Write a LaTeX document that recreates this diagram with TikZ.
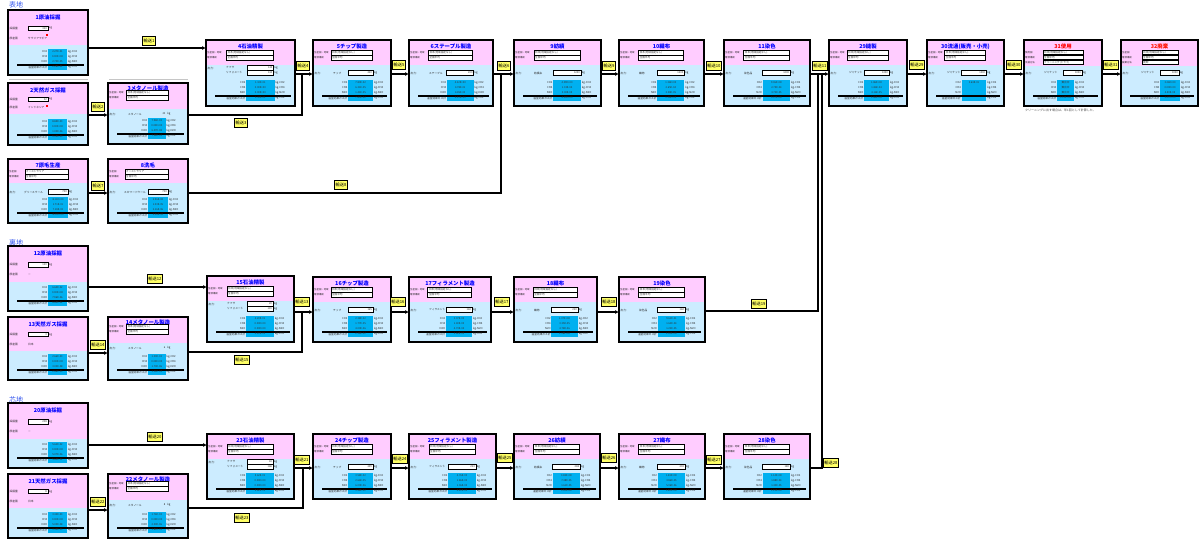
\documentclass[tikz,border=0pt]{standalone}
\usepackage{fontspec}
\setmainfont{Noto Sans CJK JP}
\usetikzlibrary{arrows.meta}
\definecolor{pinkc}{HTML}{FFCCFF}
\definecolor{bluec}{HTML}{CCECFF}
\definecolor{cyanc}{HTML}{00B0F0}
\definecolor{titc}{HTML}{0000FF}
\definecolor{yelc}{HTML}{FFFF66}
\definecolor{secc}{HTML}{3355EE}
\tikzset{
  frame/.style={draw=black,line width=1.2pt,inner sep=0pt,outer sep=0pt,anchor=north west},
  ttl/.style={font=\fontsize{5.4}{5.4}\selectfont\bfseries,inner sep=0pt,text=titc},
  lbl/.style={font=\fontsize{2.7}{3}\selectfont,inner sep=0pt,anchor=west,text=black!85},
  plbl/.style={font=\fontsize{2.4}{2.6}\selectfont,inner sep=0pt,anchor=west,text=black!85},
  val/.style={font=\fontsize{2.6}{3}\selectfont,inner sep=0pt,text=black!80},
  fld/.style={draw=black,line width=0.8pt,fill=white},
  conn/.style={draw=black,line width=1.4pt},
  arr/.style={conn,-{Latex[length=4pt,width=4pt]}},
  tr/.style={draw=black,line width=0.9pt,fill=yelc,font=\fontsize{4.2}{4.2}\selectfont,inner sep=1.3pt,minimum height=9pt},
  sec/.style={font=\fontsize{7}{7}\selectfont,text=secc,inner sep=0pt,anchor=west},
  note/.style={font=\fontsize{3}{3}\selectfont,text=black!70,inner sep=0pt,anchor=west},
}
\newcommand\vals[4]{\def\vA{#1}\def\vB{#2}\def\vC{#3}\def\vD{#4}}
\newcommand\bx[4]{%
  \fill[pinkc] (0,0) rectangle (#2,#4);
  \fill[bluec] (0,#4) rectangle (#2,#3);
  \node[frame,minimum width=#2pt,minimum height=#3pt] (#1) at (0,0) {};}
\newcommand\field[6]{%
  \draw[fld] (#4,#2-2.3) rectangle (#5,#2+2.3);
  \node[plbl] (#1l) at (1,#2) {#3};
  \node[val,anchor=west] (#1v) at (#4+1,#2) {#6};}
\newcommand\outrow[7]{%
  \node[lbl] (#1o) at (1.5,#2) {出力:};
  \node[lbl] (#1n) at (#7,#2) {#5};
  \draw[fld] (#3,#2-2.2) rectangle (#4,#2+2.2);
  \node[val,anchor=east] (#1a) at (#4-1,#2) {#6};
  \node[lbl] (#1k) at (#4+0.8,#2) {kg};}
\newcommand\ghgrows[5]{%
  \fill[cyanc] (#4,#3-26) rectangle (#5,#3-5);
  \node[lbl,anchor=east] (#1g1) at (#4-0.6,#3-23) {CO2};
  \node[val] (#1g2) at ({(#4+#5)/2},#3-23) {\vA};
  \node[lbl] (#1g3) at (#5+0.8,#3-23) {kg-CO2};
  \node[lbl,anchor=east] (#1g4) at (#4-0.6,#3-18) {CH4};
  \node[val] (#1g5) at ({(#4+#5)/2},#3-18) {\vB};
  \node[lbl] (#1g6) at (#5+0.8,#3-18) {kg-CH4};
  \node[lbl,anchor=east] (#1g7) at (#4-0.6,#3-13) {N2O};
  \node[val] (#1g8) at ({(#4+#5)/2},#3-13) {\vC};
  \node[lbl] (#1g9) at (#5+0.8,#3-13) {kg-N2O};
  \draw[line width=1.7pt] (9,#3-10) -- (#2-4,#3-10);
  \node[lbl,anchor=east] (#1g10) at (#4-0.6,#3-8) {温室効果ガス計};
  \node[val] (#1g11) at ({(#4+#5)/2},#3-8) {\vD};
  \node[lbl] (#1g12) at (#5+0.8,#3-8) {kg-CO2};}
% raw material box: id x y h p title amount country
\newcommand\rawbox[8]{%
 \begin{scope}[shift={(#2,#3)}]
  \bx{#1}{80}{#4}{#5}
  \node[ttl] (#1t) at (40,7) {#6};
  \node[lbl] (#1la) at (1.5,{0.52*#5}) {採掘量};
  \draw[fld] (20,{0.52*#5-2.2}) rectangle (40,{0.52*#5+2.2});
  \node[val,anchor=east] (#1a) at (39,{0.52*#5}) {#7};
  \node[lbl] (#1k) at (41,{0.52*#5}) {kg};
  \node[lbl] (#1lb) at (1.5,{0.8*#5}) {原産国};
  \node[lbl] (#1c) at (20,{0.8*#5}) {#8};
  \ghgrows{#1}{80}{#4}{40}{59}
 \end{scope}}
% standard process box: id x y w h title product amount
\newcommand\stdproc[8]{%
 \begin{scope}[shift={(#2,#3)}]
  \bx{#1}{#4}{#5}{25}
  \node[ttl] (#1t) at ({#4/2},6.5) {#6};
  \field{#1fa}{13}{生産国・地域}{0.23*#4}{0.76*#4}{日本(地域指定なし)}
  \field{#1fb}{18}{電源構成}{0.23*#4}{0.76*#4}{全国平均}
  \outrow{#1}{33}{0.45*#4}{0.77*#4}{#7}{#8}{20}
  \ghgrows{#1}{#4}{#5}{0.45*#4}{0.77*#4}
 \end{scope}}
% oil refinery box: id x y w h title naphtha reformate
\newcommand\oilbox[8]{%
 \begin{scope}[shift={(#2,#3)}]
  \bx{#1}{#4}{#5}{25}
  \node[ttl] (#1t) at ({#4/2},6.5) {#6};
  \field{#1fa}{13}{生産国・地域}{0.23*#4}{0.76*#4}{日本(地域指定なし)}
  \field{#1fb}{18}{電源構成}{0.23*#4}{0.76*#4}{全国平均}
  \outrow{#1}{28}{0.46*#4}{0.76*#4}{ナフサ}{#7}{20}
  \node[lbl] (#1n2) at (20,33) {リフォメート};
  \draw[fld] (0.46*#4,33-2.2) rectangle (0.76*#4,33+2.2);
  \node[val,anchor=east] (#1a2) at (0.76*#4-1,33) {#8};
  \node[lbl] (#1k2) at (0.76*#4+0.8,33) {kg};
  \ghgrows{#1}{#4}{#5}{0.45*#4}{0.77*#4}
 \end{scope}}
% methanol box: id x y w h title amount
\newcommand\methbox[7]{%
 \begin{scope}[shift={(#2,#3)}]
  \bx{#1}{#4}{#5}{26}
  \node[ttl] (#1t) at ({#4/2},5.5) {#6};
  \field{#1fa}{10}{生産国・地域}{0.23*#4}{0.76*#4}{日本(地域指定なし)}
  \field{#1fb}{15}{電源構成}{0.23*#4}{0.76*#4}{全国平均}
  \node[lbl] (#1o) at (1.5,31) {出力:};
  \node[lbl] (#1n) at (20,31) {メタノール};
  \node[val,anchor=east] (#1a) at (0.72*#4,31) {#7};
  \node[lbl] (#1k) at (0.72*#4+1.5,31) {kg};
  \ghgrows{#1}{#4}{#5}{0.5*#4}{0.72*#4}
 \end{scope}}
% wool box: id x y w h title country product amount
\newcommand\woolbox[9]{%
 \begin{scope}[shift={(#2,#3)}]
  \bx{#1}{#4}{#5}{24}
  \node[ttl] (#1t) at ({#4/2},6.5) {#6};
  \field{#1fa}{13}{生産国}{17}{60}{#7}
  \field{#1fb}{18}{電源構成}{17}{60}{全国平均}
  \outrow{#1}{33}{40}{60}{#8}{#9}{16}
  \ghgrows{#1}{#4}{#5}{40}{60}
 \end{scope}}
\begin{document}
\begin{tikzpicture}[x=1pt,y=-1pt]
\useasboundingbox (0,0) rectangle (1199,541);
\fill[white] (0,0) rectangle (1199,541);

\node[sec] (sA) at (9,5) {表地};
\node[sec] (sB) at (9,243) {裏地};
\node[sec] (sC) at (9,400) {芯地};

% ---------------- Row 1 ----------------
\vals{2.27E-01}{0.00E+00}{2.73E-05}{2.28E-01}
\rawbox{b1}{8}{10}{65}{35}{1原油採掘}{320}{サウジアラビア}
\vals{8.85E-03}{0.00E+00}{1.00E-06}{9.15E-03}
\rawbox{b2}{8}{83}{62}{31}{2天然ガス採掘}{32}{インドネシア}
\vals{7.96E-03}{0.00E+00}{6.47E-08}{7.98E-03}
\methbox{b3}{108}{83}{80}{61}{3メタノール製造}{20}
\vals{1.10E-01}{0.00E+00}{0.00E+00}{1.10E-01}
\oilbox{b4}{206}{40}{89}{66}{4石油精製}{120}{413}
\vals{7.80E-02}{6.31E-05}{1.41E-05}{7.80E-02}
\stdproc{b5}{313}{40}{78}{66}{5チップ製造}{チップ}{220}
\vals{4.22E+00}{4.78E-01}{4.45E-03}{4.33E+00}
\stdproc{b6}{409}{40}{84}{66}{6ステープル製造}{ステープル}{200}
\vals{8.11E+00}{1.71E-01}{7.18E-03}{8.23E+00}
\woolbox{b7}{8}{159}{80}{64}{7原毛生産}{オーストラリア}{グリースウール}{700}
\vals{2.96E-02}{1.03E-05}{2.16E-06}{2.96E-02}
\woolbox{b8}{108}{159}{80}{64}{8洗毛}{オーストラリア}{スカワードウール}{700}
\vals{4.09E+00}{1.33E-04}{3.00E-05}{4.09E+00}
\stdproc{b9}{514}{40}{87}{66}{9紡績}{紡績糸}{1240}
\vals{1.36E+00}{2.65E-04}{3.38E-05}{1.36E+00}
\stdproc{b10}{619}{40}{85}{66}{10織布}{織物}{1200}
\vals{9.06E+00}{2.75E-04}{3.73E-05}{9.07E+00}
\stdproc{b11}{724}{40}{86}{66}{11染色}{染色品}{1200}
\vals{1.86E+00}{1.86E-04}{4.16E-05}{1.86E+00}
\stdproc{b29}{829}{40}{78}{66}{29縫製}{ジャケット}{1000}
\vals{3.64E-01}{}{}{}
\stdproc{b30}{927}{40}{77}{66}{30流通(販売・小売)}{ジャケット}{1000}

\vals{算出中}{算出中}{算出中}{3.33E+00}
\begin{scope}[shift={(1024,40)}]
  \bx{b31}{78}{66}{26}
  \node[ttl,text=red] (b31t) at (39,6) {31使用};
  \field{b31fa}{12.5}{使用国}{19}{59}{日本(地域指定なし)}
  \field{b31fb}{17.5}{電源構成}{19}{59}{全国平均}
  \field{b31fc}{22.5}{洗濯方法}{19}{59}{クリーニング(ドライ)}
  \outrow{b31}{33}{39}{58}{ジャケット}{1000}{20}
  \ghgrows{b31}{78}{66}{33}{50}
\end{scope}
\vals{3.26E+00}{0.00E+00}{4.50E-05}{3.27E+00}
\begin{scope}[shift={(1121,40)}]
  \bx{b32}{77}{66}{26}
  \node[ttl,text={red!85!orange}] (b32t) at (38.5,6) {32廃棄};
  \field{b32fa}{12.5}{生産国}{21}{57}{日本(地域指定なし)}
  \field{b32fb}{17.5}{電源構成}{21}{57}{全国平均}
  \field{b32fc}{22.5}{廃棄方法}{21}{57}{焼却}
  \outrow{b32}{33}{39}{58}{ジャケット}{1000}{20}
  \ghgrows{b32}{77}{66}{39}{59}
\end{scope}
\node[note] (n31) at (1025,110) {クリーニングに出す場合は、年1回として計算した。};

% markers and faint lines
\fill[red] (46,34) rectangle (48,36);
\fill[red] (46,105) rectangle (48,107);
\draw[gray!45,line width=1pt] (9,79) -- (88,79);
\draw[gray!45,line width=1pt] (109,79) -- (188,79);

% ---------------- Row 2 ----------------
\vals{6.64E-02}{0.00E+00}{7.96E-06}{6.65E-02}
\rawbox{b12}{8}{246}{65}{36}{12原油採掘}{120}{－}
\vals{2.66E-03}{0.00E+00}{3.00E-08}{2.66E-03}
\rawbox{b13}{8}{317}{63}{34}{13天然ガス採掘}{3}{日本}
\vals{1.30E-03}{0.00E+00}{1.70E-06}{1.36E-03}
\methbox{b14}{108}{317}{80}{63}{14メタノール製造}{6}
\vals{4.20E-01}{0.00E+00}{0.00E+00}{4.20E-01}
\oilbox{b15}{207}{276}{87}{66}{15石油精製}{20}{119}
\vals{2.38E-02}{1.77E-05}{4.00E-06}{2.38E-02}
\stdproc{b16}{313}{277}{78}{65}{16チップ製造}{チップ}{165}
\vals{3.37E-03}{1.40E-03}{4.73E-04}{3.62E-03}
\stdproc{b17}{409}{277}{82}{65}{17フィラメント製造}{フィラメント}{160}
\vals{1.07E+00}{3.35E-05}{4.78E-06}{1.08E+00}
\stdproc{b18}{514}{277}{83}{65}{18織布}{織物}{220}
\vals{9.61E-01}{1.62E-04}{1.22E-05}{1.02E+00}
\stdproc{b19}{619}{277}{86}{65}{19染色}{染色品}{160}

% ---------------- Row 3 ----------------
\vals{5.62E-02}{0.00E+00}{5.07E-06}{5.63E-02}
\rawbox{b20}{8}{403}{65}{36}{20原油採掘}{208}{－}
\vals{3.34E-03}{0.00E+00}{5.00E-08}{3.34E-03}
\rawbox{b21}{8}{474}{64}{34}{21天然ガス採掘}{8}{日本}
\vals{1.76E-03}{0.00E+00}{2.00E-06}{1.81E-03}
\methbox{b22}{108}{474}{80}{64}{22メタノール製造}{8}
\vals{5.62E-01}{0.00E+00}{0.00E+00}{5.62E-01}
\oilbox{b23}{207}{434}{87}{65}{23石油精製}{43}{168}
\vals{3.58E-02}{2.66E-05}{6.00E-06}{3.58E-02}
\stdproc{b24}{313}{434}{78}{65}{24チップ製造}{チップ}{249}
\vals{4.76E-03}{1.86E-03}{1.36E-03}{4.81E-03}
\stdproc{b25}{409}{434}{87}{65}{25フィラメント製造}{フィラメント}{223}
\vals{3.48E+00}{7.48E-05}{1.61E-05}{3.52E+00}
\stdproc{b26}{514}{434}{86}{65}{26紡績}{紡績糸}{248}
\vals{1.81E+00}{3.86E-05}{5.06E-06}{1.82E+00}
\stdproc{b27}{619}{434}{86}{65}{27織布}{織物}{230}
\vals{1.14E+00}{1.88E-04}{1.40E-05}{1.15E+00}
\stdproc{b28}{724}{434}{86}{65}{28染色}{染色品}{180}

% ---------------- junctions ----------------
\coordinate (j1) at (302,74);
\coordinate (j2) at (501,74);
\coordinate (j3) at (302,312);
\coordinate (j4) at (303,468);
\coordinate (jA) at (818,74);
\coordinate (jB) at (822,74);

% ---------------- connectors ----------------
\draw[arr] ([yshift=-38pt]b1.north east) -- ([yshift=-8pt]b4.north west);
\draw[arr] ([yshift=-32pt]b2.north east) -- ([yshift=-32pt]b3.north west);
\draw[conn] ([yshift=-32pt]b3.north east) -| (j1);
\draw[arr] ([yshift=-34pt]b4.north east) -- ([yshift=-34pt]b5.north west);
\draw[arr] ([yshift=-34pt]b5.north east) -- ([yshift=-34pt]b6.north west);
\draw[arr] ([yshift=-34pt]b6.north east) -- ([yshift=-34pt]b9.north west);
\draw[arr] ([yshift=-34pt]b7.north east) -- ([yshift=-34pt]b8.north west);
\draw[conn] ([yshift=-34pt]b8.north east) -| (j2);
\draw[arr] ([yshift=-34pt]b9.north east) -- ([yshift=-34pt]b10.north west);
\draw[arr] ([yshift=-34pt]b10.north east) -- ([yshift=-34pt]b11.north west);
\draw[arr] ([yshift=-34pt]b11.north east) -- ([yshift=-34pt]b29.north west);
\draw[arr] ([yshift=-34pt]b29.north east) -- ([yshift=-34pt]b30.north west);
\draw[arr] ([yshift=-34pt]b30.north east) -- ([yshift=-34pt]b31.north west);
\draw[arr] ([yshift=-34pt]b31.north east) -- ([yshift=-34pt]b32.north west);

\draw[arr] ([yshift=-41pt]b12.north east) -- ([yshift=-11pt]b15.north west);
\draw[arr] ([yshift=-36pt]b13.north east) -- ([yshift=-36pt]b14.north west);
\draw[conn] ([yshift=-35pt]b14.north east) -| (j3);
\draw[arr] ([yshift=-36pt]b15.north east) -- ([yshift=-35pt]b16.north west);
\draw[arr] ([yshift=-35pt]b16.north east) -- ([yshift=-35pt]b17.north west);
\draw[arr] ([yshift=-35pt]b17.north east) -- ([yshift=-35pt]b18.north west);
\draw[arr] ([yshift=-35pt]b18.north east) -- ([yshift=-35pt]b19.north west);
\draw[conn] ([yshift=-34pt]b19.north east) -| (jA);

\draw[arr] ([yshift=-42pt]b20.north east) -- ([yshift=-11pt]b23.north west);
\draw[arr] ([yshift=-36pt]b21.north east) -- ([yshift=-36pt]b22.north west);
\draw[conn] ([yshift=-34pt]b22.north east) -| (j4);
\draw[arr] ([yshift=-34pt]b23.north east) -- ([yshift=-34pt]b24.north west);
\draw[arr] ([yshift=-34pt]b24.north east) -- ([yshift=-34pt]b25.north west);
\draw[arr] ([yshift=-34pt]b25.north east) -- ([yshift=-34pt]b26.north west);
\draw[arr] ([yshift=-34pt]b26.north east) -- ([yshift=-34pt]b27.north west);
\draw[arr] ([yshift=-34pt]b27.north east) -- ([yshift=-34pt]b28.north west);
\draw[conn] ([yshift=-34pt]b28.north east) -| (jB);

% ---------------- transport labels ----------------
\node[tr] (t1) at (149,41) {輸送1};
\node[tr] (t2) at (98,107) {輸送2};
\node[tr] (t3) at (241,123) {輸送3};
\node[tr] (t4) at (303,66) {輸送4};
\node[tr] (t5) at (399,65) {輸送5};
\node[tr] (t6) at (504,66) {輸送6};
\node[tr] (t7) at (98,186) {輸送7};
\node[tr] (t8) at (341,185) {輸送8};
\node[tr] (t9) at (609,66) {輸送9};
\node[tr] (t10) at (714,66) {輸送10};
\node[tr] (t11) at (820,66) {輸送11};
\node[tr] (t29) at (917,65) {輸送29};
\node[tr] (t30) at (1014,65) {輸送30};
\node[tr] (t31) at (1111,65) {輸送31};

\node[tr] (t12) at (155,279) {輸送12};
\node[tr] (t14) at (98,345) {輸送14};
\node[tr] (t15) at (242,360) {輸送15};
\node[tr] (t13) at (302,302) {輸送13};
\node[tr] (t16) at (398,302) {輸送16};
\node[tr] (t17) at (502,302) {輸送17};
\node[tr] (t18) at (609,302) {輸送18};
\node[tr] (t19) at (759,304) {輸送19};

\node[tr] (t20) at (155,437) {輸送20};
\node[tr] (t22) at (98,502) {輸送22};
\node[tr] (t23) at (242,518) {輸送23};
\node[tr] (t21) at (302,460) {輸送21};
\node[tr] (t24) at (400,459) {輸送24};
\node[tr] (t25) at (505,458) {輸送25};
\node[tr] (t26) at (609,458) {輸送26};
\node[tr] (t27) at (714,460) {輸送27};
\node[tr] (t28) at (831,463) {輸送28};
\end{tikzpicture}
\end{document}
